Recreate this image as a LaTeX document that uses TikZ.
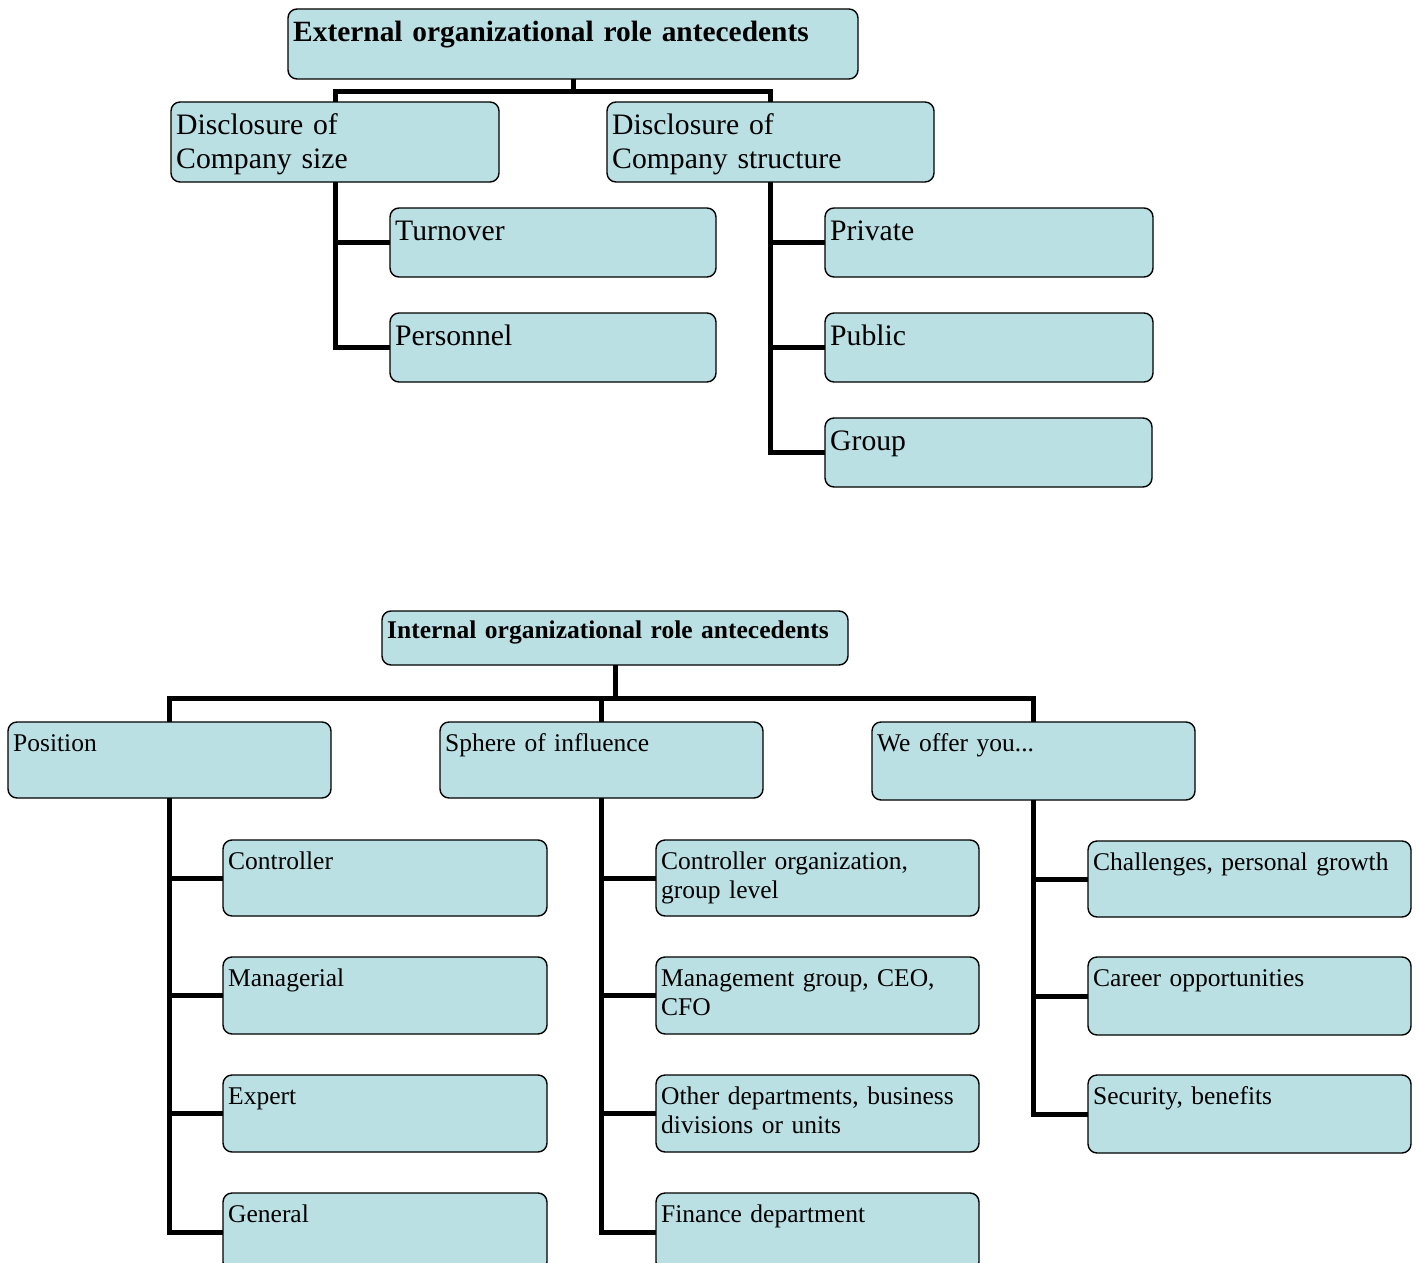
\documentclass[tikz,border=0pt]{standalone}
\usepackage{fontspec}
\setmainfont{Liberation Serif}
\definecolor{boxfill}{RGB}{186,224,228}
\tikzset{
  box/.style={draw=black, line width=1.4pt, fill=boxfill, rounded corners=9pt, inner sep=0pt, outer sep=0pt},
  lbltop/.style={inner sep=0pt, align=left, font=\fontsize{29.7}{34}\selectfont},
  lbltopb/.style={inner sep=0pt, align=left, font=\fontsize{29.4}{34}\selectfont\bfseries},
  lblbot/.style={inner sep=0pt, align=left, font=\fontsize{25.5}{29.5}\selectfont},
  lblbotb/.style={inner sep=0pt, align=left, font=\fontsize{25.5}{29.5}\selectfont\bfseries},
  conn/.style={draw=black, line width=5pt, line join=miter}
}
% name, x, y, w, h, baseline offset, style, text
\newcommand\bx[8]{%
  \node[box, minimum width=#4pt, minimum height=#5pt] (#1) at ({#2+#4/2},{#3+#5/2}) {};
  \node[#7, text width=#4pt-12pt, anchor=base west] (#1t) at ([xshift=5pt, yshift=-#6pt]#1.north west) {#8};}
\begin{document}
\begin{tikzpicture}[x=1pt, y=-1pt]
\clip (0,0) rectangle (1419,1263);
\fill[white] (0,0) rectangle (1419,1263);
% ---- external ----
\bx{ext}{288}{9}{570}{70}{33}{lbltopb}{External organizational role antecedents}
\bx{dsize}{171}{102}{328}{80}{32}{lbltop}{Disclosure of\\Company size}
\bx{dstruct}{607}{102}{327}{80}{32}{lbltop}{Disclosure of\\Company structure}
\bx{turn}{390}{208}{326}{69}{32}{lbltop}{Turnover}
\bx{pers}{390}{313}{326}{69}{32}{lbltop}{Personnel}
\bx{priv}{825}{208}{328}{69}{32}{lbltop}{Private}
\bx{pub}{825}{313}{328}{69}{32}{lbltop}{Public}
\bx{grp}{825}{418}{327}{69}{32}{lbltop}{Group}
% ---- internal ----
\bx{int}{382}{611}{466}{54}{27}{lblbotb}{Internal organizational role antecedents}
\bx{pos}{8}{722}{323}{76}{29}{lblbot}{Position}
\bx{sph}{440}{722}{323}{76}{29}{lblbot}{Sphere of influence}
\bx{off}{872}{722}{323}{78}{29}{lblbot}{We offer you...}
\bx{ctrl}{223}{840}{324}{76}{29}{lblbot}{Controller}
\bx{mgr}{223}{957}{324}{77}{29}{lblbot}{Managerial}
\bx{expt}{223}{1075}{324}{77}{29}{lblbot}{Expert}
\bx{gen}{223}{1193}{324}{78}{29}{lblbot}{General}
\bx{cog}{656}{840}{323}{76}{29}{lblbot}{Controller organization,\\group level}
\bx{mgmt}{656}{957}{323}{77}{29}{lblbot}{Management group, CEO,\\CFO}
\bx{oth}{656}{1075}{323}{77}{29}{lblbot}{Other departments, business\\divisions or units}
\bx{fin}{656}{1193}{323}{78}{29}{lblbot}{Finance department}
\bx{chal}{1088}{841}{323}{76}{29}{lblbot}{Challenges, personal growth}
\bx{car}{1088}{957}{323}{78}{29}{lblbot}{Career opportunities}
\bx{sec}{1088}{1075}{323}{78}{29}{lblbot}{Security, benefits}
% ---- connectors ----
\draw[conn] (ext.south) -- ++(0,12) -| (dsize.north);
\draw[conn] (ext.south) -- ++(0,12) -| (dstruct.north);
\draw[conn] (dsize.south) |- (turn.west);
\draw[conn] (dsize.south) |- (pers.west);
\draw[conn] (dstruct.south) |- (priv.west);
\draw[conn] (dstruct.south) |- (pub.west);
\draw[conn] (dstruct.south) |- (grp.west);
\draw[conn] (int.south) -- ++(0,33) -| (pos.north);
\draw[conn] (int.south) -- ++(0,33) -| (sph.north);
\draw[conn] (int.south) -- ++(0,33) -| (off.north);
\draw[conn] (pos.south) |- (ctrl.west);
\draw[conn] (pos.south) |- (mgr.west);
\draw[conn] (pos.south) |- (expt.west);
\draw[conn] (pos.south) |- (gen.west);
\draw[conn] (sph.south) |- (cog.west);
\draw[conn] (sph.south) |- (mgmt.west);
\draw[conn] (sph.south) |- (oth.west);
\draw[conn] (sph.south) |- (fin.west);
\draw[conn] (off.south) |- (chal.west);
\draw[conn] (off.south) |- (car.west);
\draw[conn] (off.south) |- (sec.west);
\end{tikzpicture}
\end{document}
